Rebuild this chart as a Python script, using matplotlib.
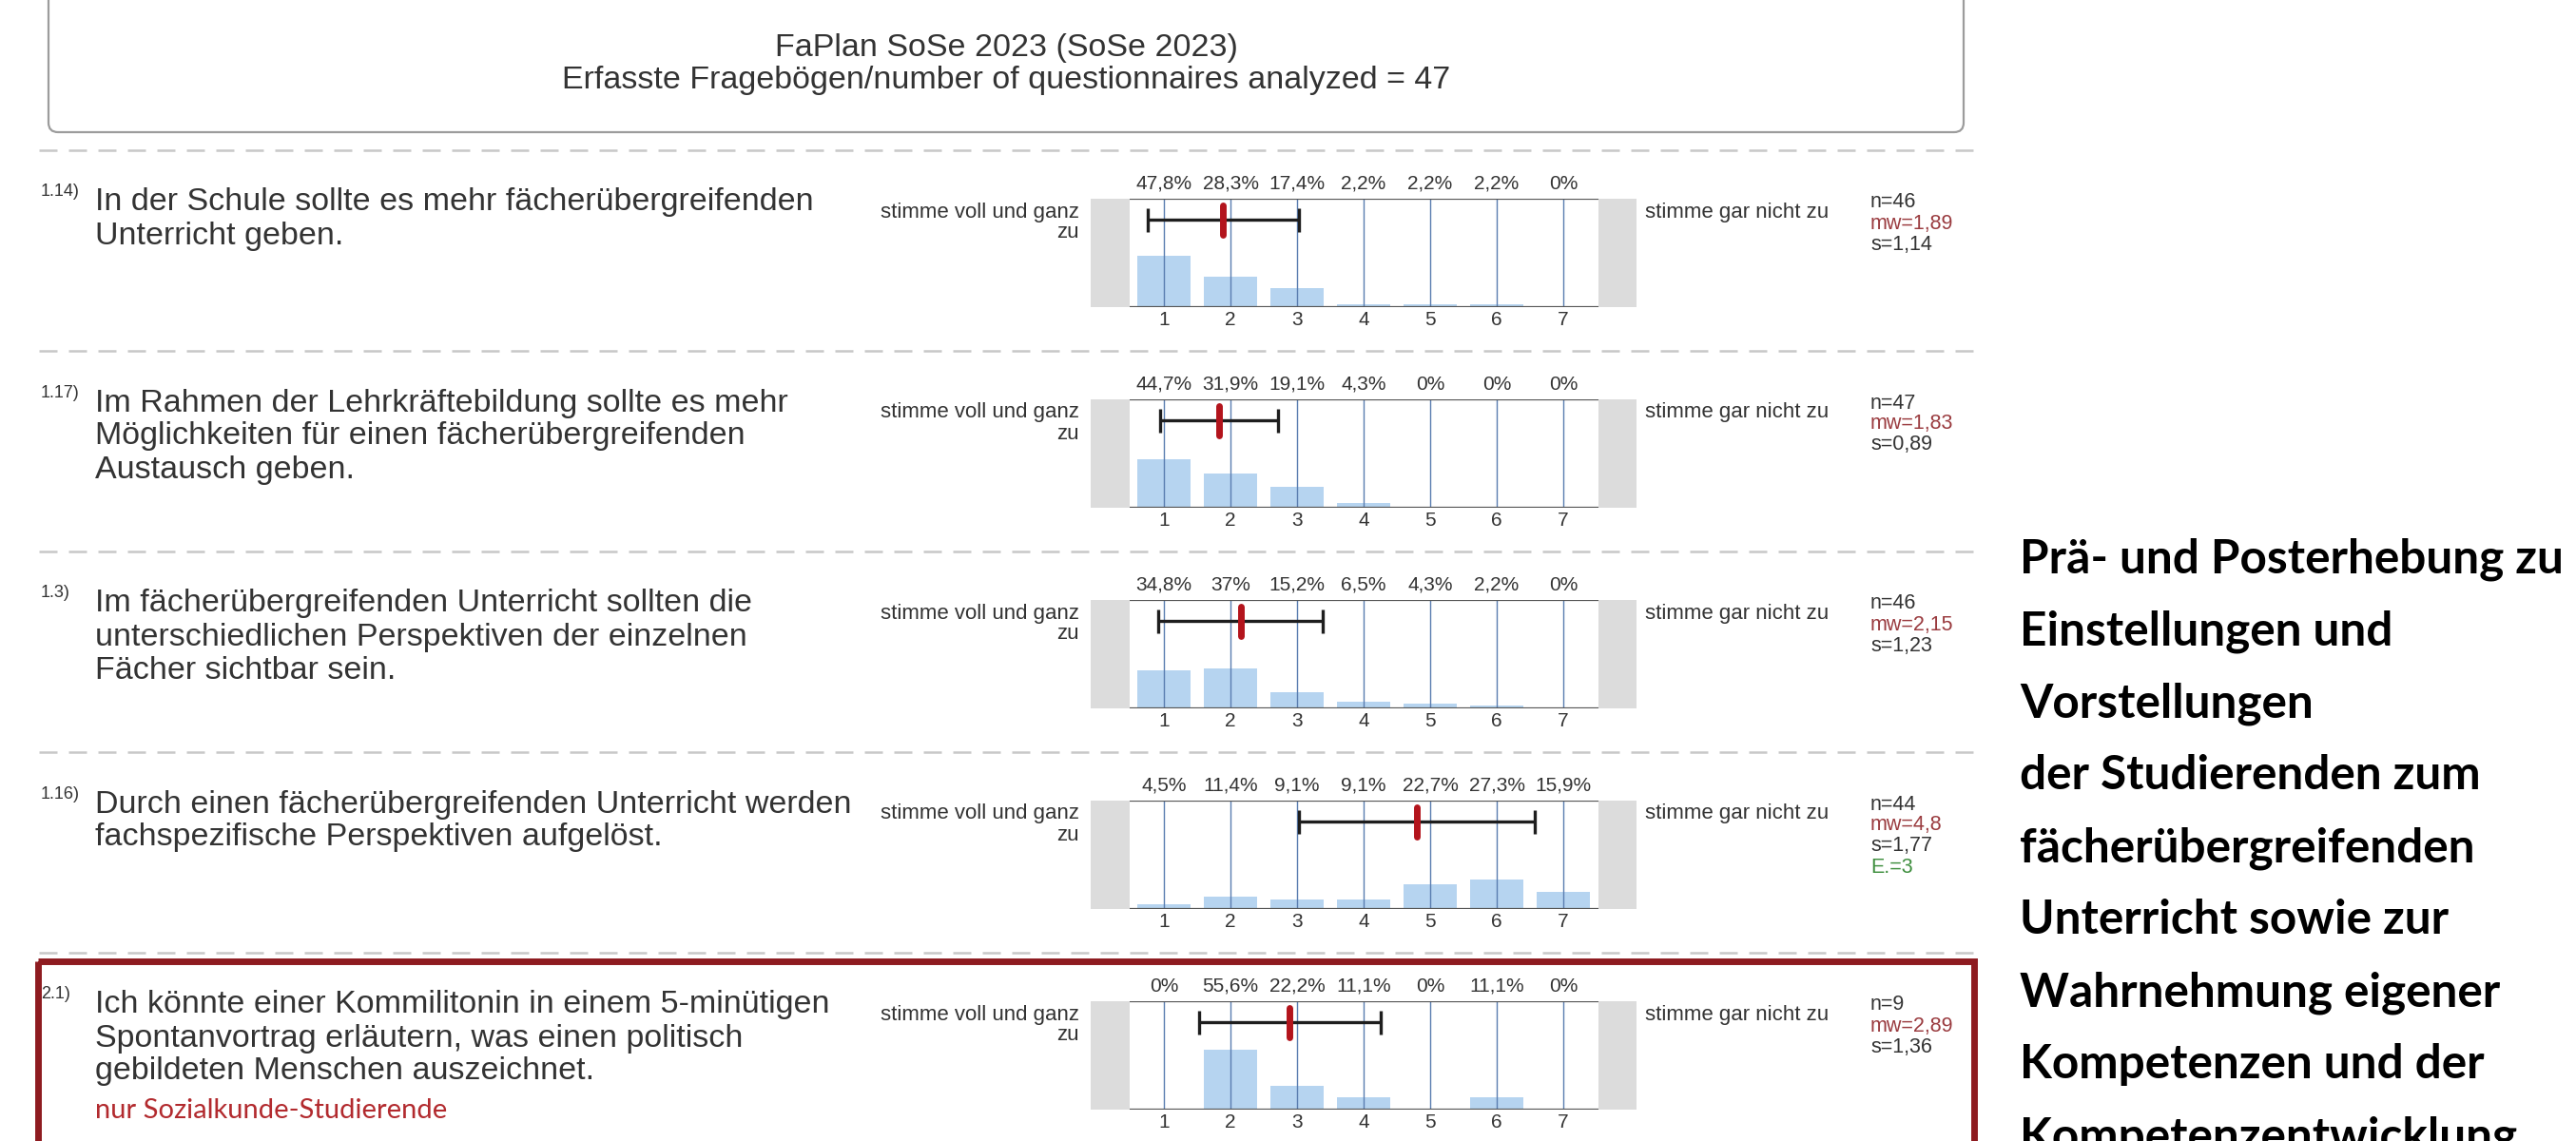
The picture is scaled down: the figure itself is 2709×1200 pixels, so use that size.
import matplotlib
matplotlib.use('Agg')
import matplotlib.pyplot as plt
from matplotlib import font_manager
from matplotlib.font_manager import FontProperties
from matplotlib.patches import FancyBboxPatch, Rectangle

# ---- data ----
title_lines = ['FaPlan SoSe 2023 (SoSe 2023)',
               'Erfasste Fragebögen/number of questionnaires analyzed = 47']

item_ids = ['1.14)', '1.17)', '1.3)', '1.16)', '2.1)']
item_texts = [
    ['In der Schule sollte es mehr fächerübergreifenden', 'Unterricht geben.'],
    ['Im Rahmen der Lehrkräftebildung sollte es mehr',
     'Möglichkeiten für einen fächerübergreifenden', 'Austausch geben.'],
    ['Im fächerübergreifenden Unterricht sollten die',
     'unterschiedlichen Perspektiven der einzelnen', 'Fächer sichtbar sein.'],
    ['Durch einen fächerübergreifenden Unterricht werden',
     'fachspezifische Perspektiven aufgelöst.'],
    ['Ich könnte einer Kommilitonin in einem 5-minütigen',
     'Spontanvortrag erläutern, was einen politisch',
     'gebildeten Menschen auszeichnet.'],
]
item_note = 'nur Sozialkunde-Studierende'

scale = [1, 2, 3, 4, 5, 6, 7]
pct_114 = [47.8, 28.3, 17.4, 2.2, 2.2, 2.2, 0]
pct_117 = [44.7, 31.9, 19.1, 4.3, 0, 0, 0]
pct_13 = [34.8, 37, 15.2, 6.5, 4.3, 2.2, 0]
pct_116 = [4.5, 11.4, 9.1, 9.1, 22.7, 27.3, 15.9]
pct_21 = [0, 55.6, 22.2, 11.1, 0, 11.1, 0]
pcts = [pct_114, pct_117, pct_13, pct_116, pct_21]

n_vals = [46, 47, 46, 44, 9]
mw_vals = [1.89, 1.83, 2.15, 4.8, 2.89]
s_vals = [1.14, 0.89, 1.23, 1.77, 1.36]
e_vals = [None, None, None, 3, None]

left_label = ['stimme voll und ganz', 'zu']
right_label = 'stimme gar nicht zu'

side_lines = ['Prä- und Posterhebung zu', 'Einstellungen und', 'Vorstellungen',
              'der Studierenden zum', 'fächerübergreifenden',
              'Unterricht sowie zur', 'Wahrnehmung eigener',
              'Kompetenzen und der', 'Kompetenzentwicklung']


def de(v):
    return ('%g' % v).replace('.', ',')


plt.rcParams['font.family'] = ['Liberation Sans', 'DejaVu Sans']

W, H = 2709, 1200
fig = plt.figure(figsize=(W / 100, H / 100), dpi=100)
fig.patch.set_facecolor('white')

# pixel canvas for the page layout
cv = fig.add_axes([0, 0, 1, 1])
cv.set_xlim(0, W)
cv.set_ylim(H, 0)
cv.axis('off')

txt = '#333333'
row_h = 211

# title box
cv.add_patch(FancyBboxPatch((51, -40), 2014, 179, boxstyle='round,pad=0,rounding_size=10',
                            fc='white', ec='#9c9c9c', lw=1.6))
cv.text(1058, 50, title_lines[0], ha='center', va='center', fontsize=24.5, color=txt)
cv.text(1058, 85, title_lines[1], ha='center', va='center', fontsize=24.5, color=txt)

# dashed separators
for k in range(5):
    cv.hlines(158 + row_h * k, 41, 2075, colors='#c8c8c8', lw=1.8, linestyles=(0, (7.6, 4.8)))

# red frame around the last item
cv.add_patch(Rectangle((40, 1011), 2036, 400, fc='none', ec='#8e1b20', lw=5))

for k in range(5):
    y0 = row_h * k
    # question text
    cv.text(43, 202 + y0, item_ids[k], ha='left', va='center', fontsize=13, color=txt)
    for j, line in enumerate(item_texts[k]):
        cv.text(100, 213 + y0 + 35 * j, line, ha='left', va='center', fontsize=24.5, color=txt)
    if k == 4:
        cv.text(100, 1168, item_note, ha='left', va='center', fontsize=21,
                color='#b22a2e', family=['Lato', 'DejaVu Sans'])

    # scale end labels
    cv.text(1135, 223 + y0, left_label[0], ha='right', va='center', fontsize=16, color=txt)
    cv.text(1135, 245 + y0, left_label[1], ha='right', va='center', fontsize=16, color=txt)
    cv.text(1730, 223 + y0, right_label, ha='left', va='center', fontsize=16, color=txt)

    # statistics
    cv.text(1967, 213 + y0, 'n=%d' % n_vals[k], ha='left', va='center', fontsize=15.5, color=txt)
    cv.text(1967, 235 + y0, 'mw=' + de(mw_vals[k]), ha='left', va='center', fontsize=15.5,
            color='#9a3b3f')
    cv.text(1967, 257 + y0, 's=' + de(s_vals[k]), ha='left', va='center', fontsize=15.5, color=txt)
    if e_vals[k] is not None:
        cv.text(1967, 279 + y0, 'E.=%d' % e_vals[k], ha='left', va='center', fontsize=15.5,
                color='#3f8f3f')

    # histogram panel
    top, bot = 209 + y0, 323 + y0
    ax = fig.add_axes([1147 / W, 1 - bot / H, 574 / W, (bot - top) / H])
    ax.set_xlim(-0.10, 8.10)
    ax.set_ylim(0, 100)
    ax.patch.set_alpha(0)
    for sp in ax.spines.values():
        sp.set_visible(False)
    ax.axvspan(-0.10, 0.486, color='#dcdcdc', lw=0)
    ax.axvspan(7.53, 8.10, color='#dcdcdc', lw=0)
    ax.bar(scale, pcts[k], width=0.79, color='#b6d4f0', zorder=1)
    ax.vlines(scale, 0, 100, colors='#5a7db0', lw=1.0, zorder=2)
    ax.hlines([0, 100], 0.486, 7.53, colors='#555555', lw=1.6, zorder=3)
    ax.errorbar(mw_vals[k], 81, xerr=s_vals[k], color='#1e1e1e', lw=2.4, capsize=9,
                capthick=2.4, zorder=4)
    ax.plot([mw_vals[k], mw_vals[k]], [67, 94], color='#b3141c', lw=5,
            solid_capstyle='round', zorder=5)
    for x, v in zip(scale, pcts[k]):
        ax.text(x, 114, de(v) + '%', ha='center', va='center', fontsize=15, color=txt,
                clip_on=False)
    ax.set_xticks(scale)
    ax.set_xticklabels([str(s) for s in scale])
    ax.set_yticks([])
    ax.tick_params(axis='x', length=0, pad=3, labelsize=15, labelcolor=txt)

# right-hand caption: the reference uses a condensed bold face, so take the
# narrowest bold family that is installed and size it to the available width
renderer = fig.canvas.get_renderer()
installed = {f.name for f in font_manager.fontManager.ttflist}
best_fp, best_w = None, None
for fam in ['Roboto', 'Lato', 'Liberation Sans', 'Noto Sans', 'Open Sans', 'Inter', 'DejaVu Sans']:
    if fam not in installed:
        continue
    fp = FontProperties(family=fam, weight='bold', size=40)
    probe = cv.text(2124, 590, side_lines[0], ha='left', va='center', fontproperties=fp)
    w = probe.get_window_extent(renderer=renderer).width
    probe.remove()
    if best_w is None or w < best_w:
        best_fp, best_w = fp, w
cap_size = 40 * min(1.0, 572 / best_w)
best_fp.set_size(cap_size)

for j, line in enumerate(side_lines):
    cv.text(2124, 588 + 76 * j, line, ha='left', va='center', fontproperties=best_fp,
            color='black')

fig.savefig('out.png', dpi=100, facecolor='white')
